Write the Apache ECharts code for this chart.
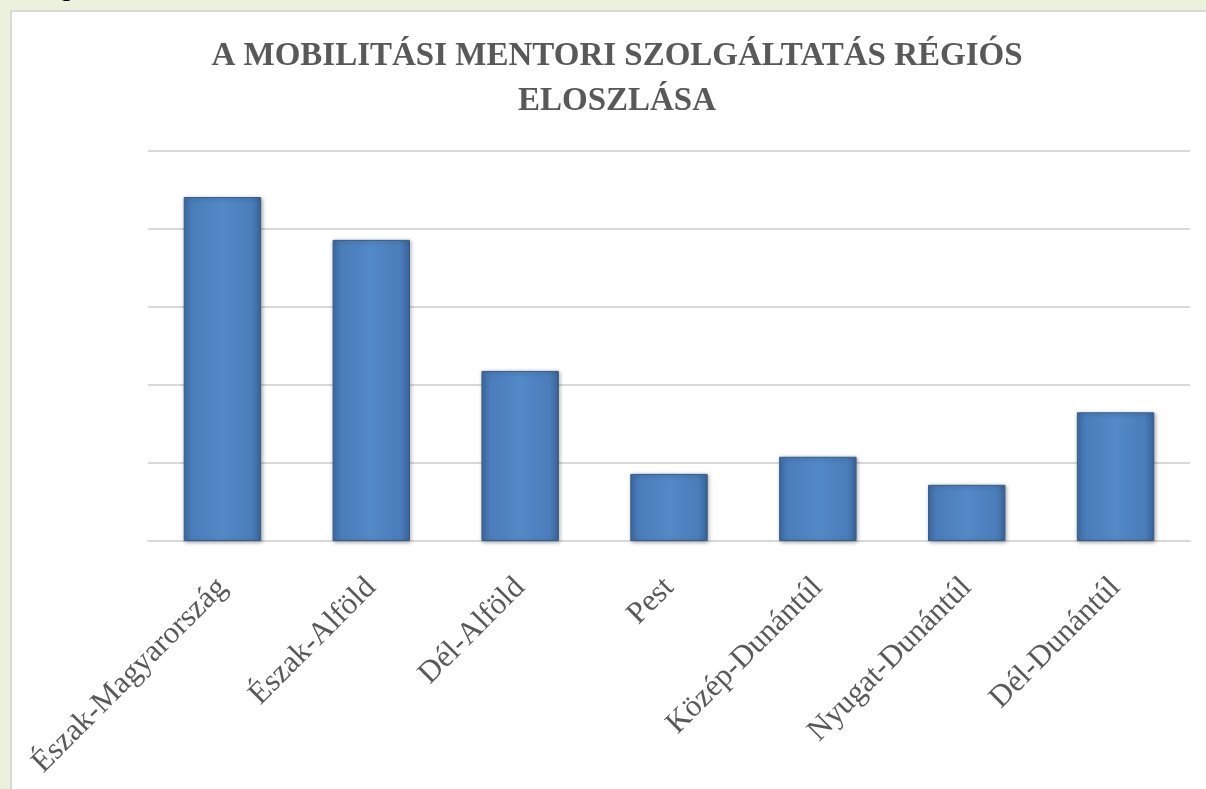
<!DOCTYPE html>
<html lang="hu">
<head>
    <meta charset="UTF-8">
    <title>A mobilitási mentori szolgáltatás régiós eloszlása</title>
    <script src="https://cdn.jsdelivr.net/npm/echarts@6/dist/echarts.min.js"></script>
    <style>
        html, body { margin: 0; padding: 0; }
        body { width: 1206px; height: 789px; background: #eaf1dd; position: relative; overflow: hidden; }
        #frag { position: absolute; left: 60px; top: -27px; font: 26px "Liberation Serif", serif; color: #000; }
        #main { position: absolute; left: 10px; top: 10px; width: 1194px; height: 777px;
                background: #fff; border-left: 2px solid #d9d9d9; border-top: 2px solid #d9d9d9; }
    </style>
</head>
<body>
    <div id="frag">g</div>
    <div id="main"></div>

    <script>
        // régiók és értékek (leolvasva az ábráról)
        var regions = ['Észak-Magyarország', 'Észak-Alföld', 'Dél-Alföld', 'Pest',
                       'Közép-Dunántúl', 'Nyugat-Dunántúl', 'Dél-Dunántúl'];
        var values = [4.41, 3.86, 2.18, 0.86, 1.08, 0.72, 1.65];
        var titleLines = ['A MOBILITÁSI MENTORI SZOLGÁLTATÁS RÉGIÓS', 'ELOSZLÁSA'];

        var myChart = echarts.init(document.getElementById('main'));

        var barFill = new echarts.graphic.LinearGradient(0, 0, 1, 0, [
            { offset: 0, color: '#3f6ea8' },
            { offset: 0.12, color: '#4a7dba' },
            { offset: 0.5, color: '#5289c7' },
            { offset: 0.88, color: '#4a7dba' },
            { offset: 1, color: '#3a659b' }
        ]);

        myChart.setOption({
            animation: false,
            title: {
                text: titleLines.join('\n'),
                left: 600,
                textAlign: 'center',
                top: 17,
                textStyle: {
                    fontFamily: '"Liberation Serif", serif',
                    fontWeight: 'bold',
                    fontSize: 33,
                    lineHeight: 45,
                    color: '#595959'
                }
            },
            grid: { left: 136, right: 16, top: 139, bottom: 248 },
            xAxis: {
                type: 'category',
                data: regions,
                axisLine: { lineStyle: { color: '#d9d9d9', width: 2 } },
                axisTick: { length: 9, lineStyle: { color: '#d9d9d9', width: 2 } },
                axisLabel: {
                    rotate: 45,
                    margin: 42,
                    fontFamily: '"Liberation Serif", serif',
                    fontSize: 31,
                    color: '#595959'
                }
            },
            yAxis: {
                type: 'value',
                min: 0,
                max: 5,
                interval: 1,
                axisLabel: { show: false },
                axisLine: { show: false },
                axisTick: { show: false },
                splitLine: { lineStyle: { color: '#d9d9d9', width: 2 } }
            },
            series: [{
                type: 'bar',
                data: values,
                barWidth: '52%',
                itemStyle: {
                    color: barFill,
                    borderColor: '#385d8a',
                    borderWidth: 1,
                    shadowColor: 'rgba(0,0,0,0.35)',
                    shadowBlur: 4,
                    shadowOffsetX: 1,
                    shadowOffsetY: 1
                }
            }]
        });
    </script>
</body>
</html>
